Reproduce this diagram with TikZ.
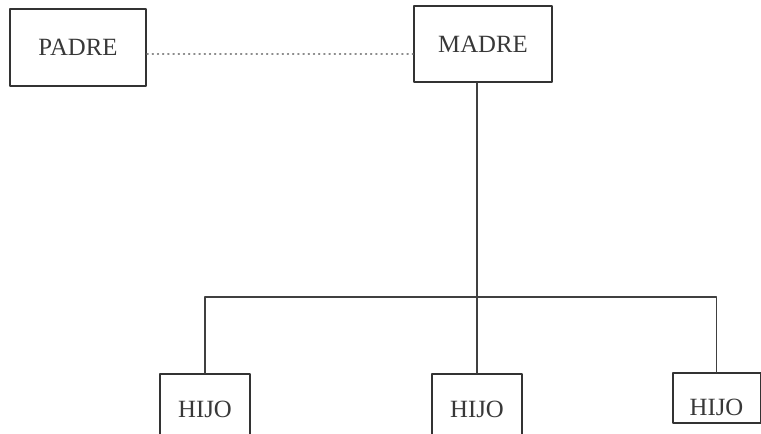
\documentclass[tikz,border=0pt]{standalone}
\usepackage{fontspec}
\setmainfont{Liberation Serif}
\begin{document}
\begin{tikzpicture}[x=0.5pt,y=-0.5pt,line join=round,line cap=round]
                    \tikzset{every node/.style={font=\fontsize{12.4}{14}\selectfont,text=black!78}}
                    \tikzset{caja/.style={draw=black!80,line width=1pt,inner sep=0pt}}
                    \tikzset{linea/.style={draw=black!75,line width=0.75pt}}
                    \useasboundingbox (0,0) rectangle (761,434);
                    \node[caja,minimum width=68pt,minimum height=38.5pt] (padre) at (78,47.5) {PADRE};
                    \node[caja,minimum width=69pt,minimum height=38pt] (madre) at (483,44) {MADRE};
                    \draw[black!45,line width=0.6pt,dotted] ([yshift=-3.25pt]padre.east) -- ([yshift=-3.25pt]padre.east -| madre.west);
                    \foreach \n/\x in {1/205,2/477}
                    \node[caja,minimum width=45pt,minimum height=35pt] (h\n) at (\x,409) {HIJO};
                    \node[caja,minimum width=44pt,minimum height=25pt,text depth=0pt,text height=17.5pt] (h3) at (716.5,398) {HIJO};
                    \coordinate (rama) at (477,297);
                    \draw[linea] (madre.south -| h2.north) -- (h2.north);
                    \draw[linea] (h1.north) -- (h1.north |- rama) -- (h3.north |- rama) -- (h3.north);
                \end{tikzpicture}
\end{document}
